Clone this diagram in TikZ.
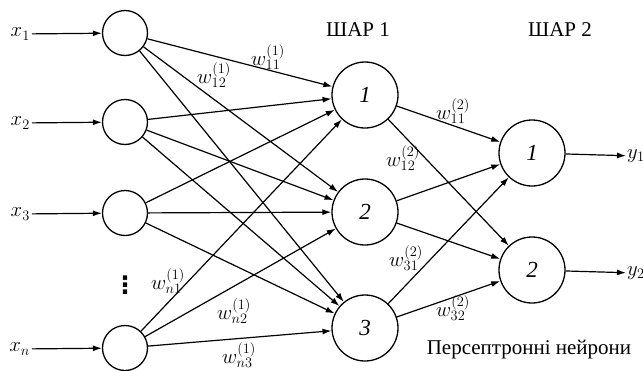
\documentclass[tikz,border=0pt]{standalone}
\usepackage{fontspec}
\setmainfont{Liberation Serif}
\newfontfamily\symfont{DejaVu Sans}
\usepackage{tikz}
\usetikzlibrary{positioning}
\usetikzlibrary{arrows.meta}

\tikzset{
  neuron/.style={circle, draw, line width=1.3pt, minimum size=66pt, inner sep=0pt, font=\fontsize{23}{25}\selectfont\itshape},
  inneuron/.style={circle, draw, line width=1.3pt, minimum size=45pt, inner sep=0pt},
  link/.style={line width=1.2pt, -{Latex[length=9pt,width=6pt]}},
  wlabel/.style={font=\fontsize{21}{23}\selectfont, inner sep=0pt},
  txt/.style={font=\fontsize{21}{24}\selectfont},
}

\begin{document}
\begin{tikzpicture}[x=1pt, y=-1pt]
  \useasboundingbox (0,0) rectangle (643,370);

	%inputs
    \foreach \y/\name/\lab in {33/in1/1, 122/in2/2, 213/in3/3, 348/inn/n}{
         \node[inneuron] (\name) at (125,\y) {};
         \node[txt, anchor=east, inner sep=2pt] (x\lab) at (32,\y+1) {$x_{\lab}$};
         \draw[link] (x\lab) -- (\name);
    }
    \node[font=\fontsize{24}{26}\selectfont\symfont\bfseries, inner sep=0pt] (dots) at (125,285) {⋮};

	%layers
    \foreach \y/\name/\num in {95/h1/1, 212/h2/2, 328/h3/3}{
         \node[neuron] (\name) at (365,\y) {\num};
    }
    \foreach \y/\name/\num in {153/o1/1, 270/o2/2}{
         \node[neuron] (\name) at (532,\y) {\num};
         \node[txt, anchor=west, inner sep=1pt] (y\num) at (626,\y+3) {$y_{\num}$};
         \draw[link] (\name) -- (y\num);
    }

	%links
    \foreach \a in {in1,in2,in3,inn}
      \foreach \b in {h1,h2,h3}
        \draw[link] (\a) -- (\b);
    \foreach \a in {h1,h2,h3}
      \foreach \b in {o1,o2}
        \draw[link] (\a) -- (\b);

	%weights
    \foreach \x/\y/\name/\w in {268/57/w11a/{11}^{(1)}, 214/75/w12a/{12}^{(1)}, 168/281/wn1a/{n1}^{(1)}, 234/311/wn2a/{n2}^{(1)}, 239/355/wn3a/{n3}^{(1)},
                                453/111/w11b/{11}^{(2)}, 403/158/w12b/{12}^{(2)}, 406/258/w31b/{31}^{(2)}, 453/308/w32b/{32}^{(2)}}{
         \node[wlabel] (\name) at (\x,\y) {$w_\w$};
    }

	%titles
    \node[txt] (layer1) at (358,30) {ШАР 1};
    \node[txt] (layer2) at (560,30) {ШАР 2};
    \node[txt] (percep) at (529,350) {Персептронні нейрони};

\end{tikzpicture}
\end{document}
